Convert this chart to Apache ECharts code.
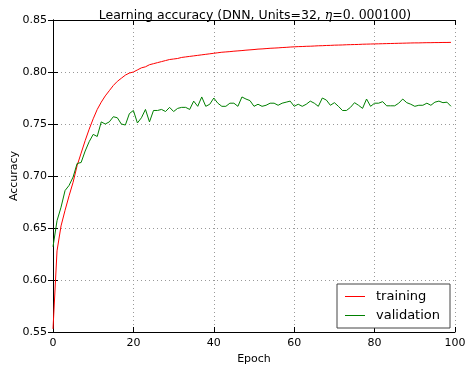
<!DOCTYPE html>
<html>
<head>
<meta charset="utf-8">
<script src="https://cdn.jsdelivr.net/npm/echarts@6/dist/echarts.min.js"></script>
<style>html,body{margin:0;padding:0;background:#fff}#c{width:467px;height:372px}</style>
</head>
<body>
<div id="c"></div>
<script>
const epochs = Array.from({length: 100}, (_, i) => i);
const training = [
0.553,0.628,0.652,0.667,0.681,0.694,0.710,0.722,0.734,0.745,
0.755,0.764,0.771,0.777,0.782,0.787,0.791,0.794,0.797,0.799,
0.800,0.802,0.804,0.805,0.807,0.808,0.809,0.810,0.811,0.812,
0.8125,0.813,0.814,0.8145,0.815,0.8155,0.816,0.8165,0.817,0.8175,
0.818,0.8185,0.819,0.8193,0.8196,0.820,0.8203,0.8206,0.821,0.8213,
0.8216,0.822,0.8222,0.8225,0.8228,0.823,0.8232,0.8235,0.8237,0.824,
0.8242,0.8244,0.8245,0.8247,0.8248,0.825,0.8252,0.8253,0.8255,0.8256,
0.8258,0.8259,0.826,0.8262,0.8263,0.8264,0.8265,0.8267,0.8268,0.8269,
0.827,0.8271,0.8272,0.8273,0.8274,0.8275,0.8276,0.8277,0.8278,0.8279,
0.828,0.828,0.8281,0.8282,0.8282,0.8283,0.8283,0.8284,0.8284,0.8285
];
const validation = [
0.632,0.657,0.670,0.686,0.691,0.699,0.712,0.713,0.724,0.733,
0.740,0.738,0.752,0.750,0.752,0.757,0.756,0.750,0.749,0.760,
0.763,0.751,0.756,0.764,0.752,0.763,0.763,0.764,0.762,0.766,
0.762,0.765,0.766,0.766,0.764,0.772,0.767,0.776,0.767,0.769,
0.775,0.770,0.767,0.767,0.770,0.770,0.767,0.776,0.774,0.7725,
0.767,0.769,0.767,0.768,0.770,0.770,0.768,0.770,0.771,0.772,
0.767,0.769,0.767,0.769,0.772,0.770,0.767,0.775,0.773,0.768,
0.7705,0.767,0.763,0.763,0.766,0.7705,0.768,0.765,0.774,0.767,
0.770,0.770,0.7715,0.7675,0.7675,0.7675,0.770,0.774,0.7705,0.769,
0.767,0.768,0.768,0.770,0.768,0.771,0.772,0.7705,0.771,0.767
];
const seriesNames = ['training', 'validation'];
const xTicks = [0, 20, 40, 60, 80, 100];
const yTicks = [0.55, 0.60, 0.65, 0.70, 0.75, 0.80, 0.85];

const font = 'DejaVu Sans';
const chart = echarts.init(document.getElementById('c'), null, {renderer: 'canvas'});
const frame = {show: true, lineStyle: {color: '#000', width: 1}};
const tick = {show: true, inside: true, length: 5, lineStyle: {color: '#000'}};
chart.setOption({
  animation: false,
  backgroundColor: '#fff',
  title: {
    text: 'Learning accuracy (DNN, Units=32, {i|η}{s|=0. 000100})',
    left: 250, top: 4, textAlign: 'center',
    textStyle: {
      fontFamily: font, fontSize: 12.5, fontWeight: 'normal', color: '#000',
      rich: {
        i: {fontFamily: 'DejaVu Serif', fontStyle: 'italic', fontSize: 12.5, color: '#000'},
        s: {fontFamily: 'DejaVu Serif', fontSize: 12.5, color: '#000'}
      }
    }
  },
  grid: {left: 53, right: 12, top: 20, bottom: 40, show: false, outerBoundsMode: 'none', containLabel: false},
  legend: {
    data: seriesNames,
    orient: 'vertical',
    left: 337, top: 284,
    width: 112,
    padding: [6, 10, 6, 8],
    itemGap: 6,
    itemWidth: 20, itemHeight: 10,
    borderColor: '#444', borderWidth: 1, borderRadius: 0,
    backgroundColor: '#fff',
    icon: 'path://M0,5 L20,5 L20,6 L0,6 Z',
    textStyle: {fontFamily: font, fontSize: 13, color: '#000', padding: [0, 0, 0, 6]}
  },
  xAxis: [{
    type: 'value', min: 0, max: 100, interval: 20,
    name: 'Epoch', nameLocation: 'middle', nameGap: 22, nameMoveOverlap: false,
    nameTextStyle: {fontFamily: font, fontSize: 11, color: '#000'},
    axisLine: frame, axisTick: tick,
    axisLabel: {fontFamily: font, fontSize: 11, color: '#000', margin: 6,
      formatter: v => xTicks.includes(v) ? String(v) : ''},
    splitLine: {show: true, lineStyle: {color: '#999', type: [1, 3], width: 1}}
  }, {
    type: 'value', min: 0, max: 100, interval: 20, position: 'top',
    axisLine: frame, axisTick: tick, axisLabel: {show: false}, splitLine: {show: false}
  }],
  yAxis: [{
    type: 'value', min: 0.55, max: 0.85, interval: 0.05,
    name: 'Accuracy', nameLocation: 'middle', nameGap: 33, nameMoveOverlap: false,
    nameTextStyle: {fontFamily: font, fontSize: 11, color: '#000'},
    axisLine: frame, axisTick: tick,
    axisLabel: {fontFamily: font, fontSize: 11, color: '#000', margin: 6,
      formatter: v => v.toFixed(2)},
    splitLine: {show: true, lineStyle: {color: '#999', type: [1, 3], width: 1}}
  }, {
    type: 'value', min: 0.55, max: 0.85, interval: 0.05, position: 'right',
    axisLine: frame, axisTick: tick, axisLabel: {show: false}, splitLine: {show: false}
  }],
  series: [{
    name: seriesNames[0], type: 'line', showSymbol: false, symbol: 'none',
    data: epochs.map((e, i) => [e, training[i]]),
    lineStyle: {color: '#ff0000', width: 1}, itemStyle: {color: '#ff0000'}
  }, {
    name: seriesNames[1], type: 'line', showSymbol: false, symbol: 'none',
    data: epochs.map((e, i) => [e, validation[i]]),
    lineStyle: {color: '#008000', width: 1}, itemStyle: {color: '#008000'}
  }]
});
</script>
</body>
</html>
